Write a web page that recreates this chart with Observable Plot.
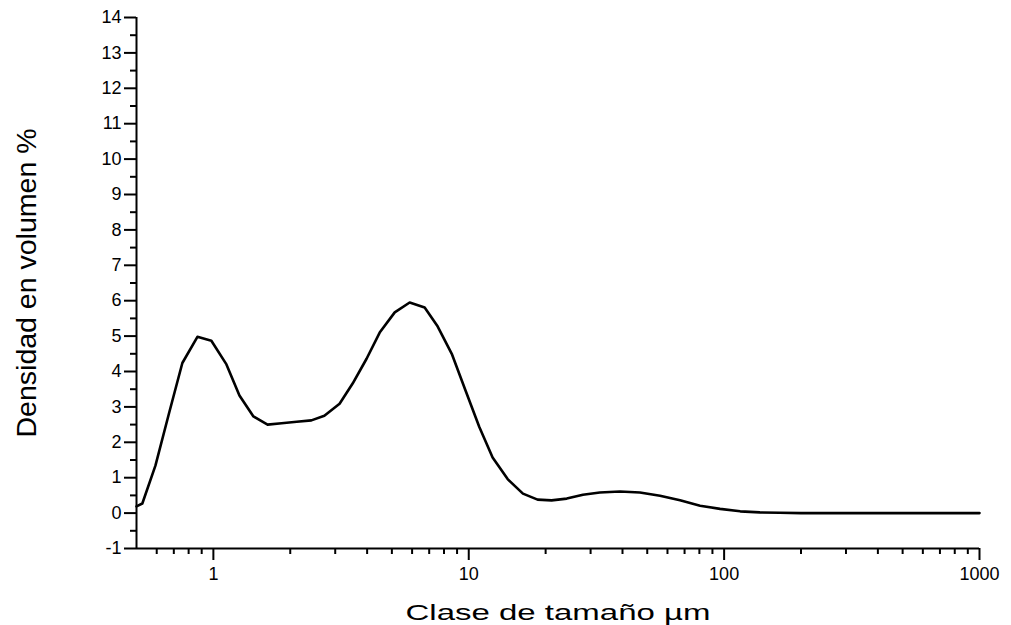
<!DOCTYPE html>
<html>
<head>
<meta charset="utf-8">
<script src="https://cdn.jsdelivr.net/npm/d3@7"></script>
<script src="https://cdn.jsdelivr.net/npm/@observablehq/plot@0.6"></script>
<style>
  body { margin: 0; background: #fff; }
  #chart svg { display: block; }
</style>
</head>
<body>
<div id="chart"></div>
<script>
// Particle size class (µm) and volume density (%)
const sizes = [0.5, 0.527, 0.593, 0.672, 0.756, 0.866, 0.982, 1.125, 1.265, 1.435, 1.63, 1.85, 2.12, 2.42, 2.72, 3.12, 3.51, 3.98, 4.48, 5.13, 5.87, 6.72, 7.56, 8.58, 9.73, 11.0, 12.4, 14.2, 16.3, 18.6, 21.1, 24.2, 28.0, 32.6, 39.1, 46.8, 56.1, 67.2, 80.5, 96.4, 115.6, 138, 165, 200, 300, 500, 1000];
const density = [0.19, 0.27, 1.34, 2.85, 4.24, 4.98, 4.87, 4.20, 3.32, 2.73, 2.50, 2.54, 2.58, 2.62, 2.75, 3.09, 3.66, 4.36, 5.10, 5.67, 5.95, 5.81, 5.27, 4.50, 3.45, 2.43, 1.57, 0.96, 0.55, 0.38, 0.36, 0.41, 0.52, 0.58, 0.61, 0.58, 0.49, 0.36, 0.21, 0.12, 0.05, 0.02, 0.01, 0, 0, 0, 0];

// Axis ticks
const yTicks = d3.range(-1, 15);
const yMinorTicks = d3.range(-0.5, 14, 1);
const xTicks = [1, 10, 100, 1000];
const xMinorTicks = [0.6, 0.7, 0.8, 0.9, 2, 3, 4, 5, 6, 7, 8, 9, 20, 30, 40, 50, 60, 70, 80, 90, 200, 300, 400, 500, 600, 700, 800, 900];

const xTitle = "Clase de tamaño µm";
const yTitle = "Densidad en volumen %";

const rows = sizes.map((s, i) => ({size: s, density: density[i]}));

const chart = Plot.plot({
  width: 1011,
  height: 625,
  marginLeft: 136,
  marginRight: 32,
  marginTop: 17,
  marginBottom: 77,
  style: {fontFamily: "'Liberation Sans', Arial, sans-serif", fontSize: "18px", color: "#000", background: "#fff"},
  x: {type: "log", domain: [0.5, 1000], label: null},
  y: {domain: [-1, 14], label: null},
  marks: [
    Plot.axisY(yTicks, {tickSize: 12, tickPadding: 3, strokeWidth: 2, fontSize: 18, tickFormat: d => String(d), label: null}),
    Plot.axisY(yMinorTicks, {tickSize: 6, strokeWidth: 2, tickFormat: () => "", label: null}),
    Plot.axisX(xTicks, {tickSize: 12, tickPadding: 7, strokeWidth: 2, fontSize: 18, tickFormat: d => String(d), label: null}),
    Plot.axisX(xMinorTicks, {tickSize: 6, strokeWidth: 2, tickFormat: () => "", label: null}),
    Plot.ruleX([0.5], {y1: -1, y2: 14, stroke: "#000", strokeWidth: 2}),
    Plot.ruleY([-1], {x1: 0.5, x2: 1000, stroke: "#000", strokeWidth: 2}),
    Plot.line(rows, {x: "size", y: "density", stroke: "#000", strokeWidth: 2.6, strokeLinejoin: "round"}),
    Plot.text([yTitle], {frameAnchor: "left", textAnchor: "middle", dx: -109, rotate: -90, fontSize: 28, fontFamily: "'Liberation Sans Narrow', 'Liberation Sans', Arial, sans-serif", fill: "#000"}),
    Plot.text([xTitle], {frameAnchor: "bottom", lineAnchor: "bottom", dy: 71, fontSize: 22, fill: "#000"})
  ]
});

// Stretch the axis titles to their set lengths
chart.querySelectorAll("text").forEach(t => {
  if (t.textContent === yTitle) { t.setAttribute("textLength", 309); t.setAttribute("lengthAdjust", "spacingAndGlyphs"); }
  if (t.textContent === xTitle) { t.setAttribute("textLength", 305); t.setAttribute("lengthAdjust", "spacingAndGlyphs"); }
});

document.getElementById("chart").append(chart);
</script>
</body>
</html>
